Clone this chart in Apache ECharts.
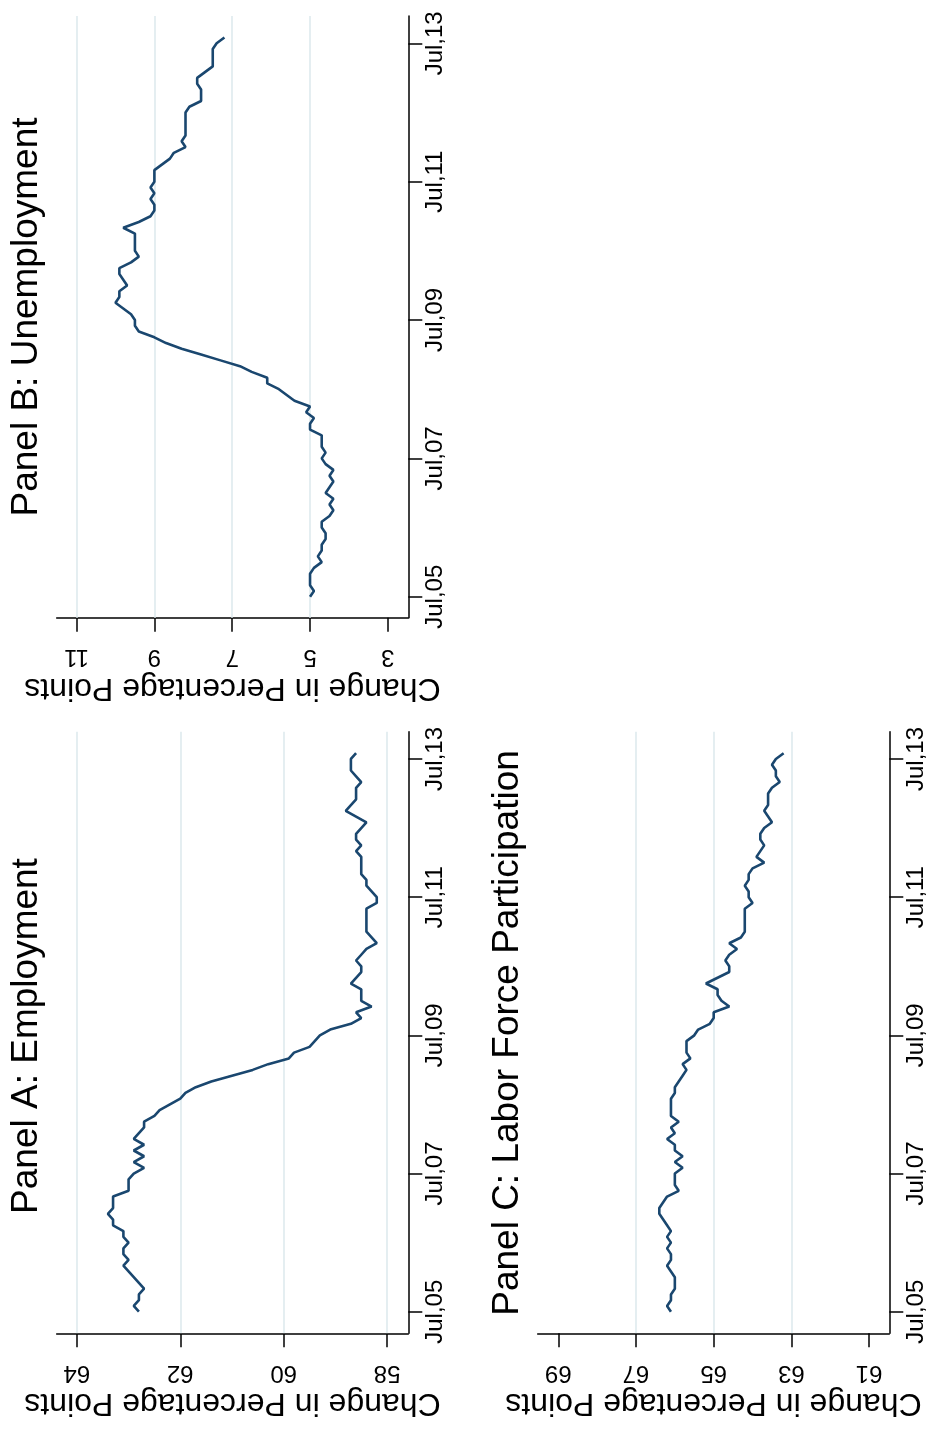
<!DOCTYPE html>
<html>
<head>
<meta charset="utf-8">
<script src="https://cdn.jsdelivr.net/npm/echarts@6/dist/echarts.min.js"></script>
<style>
html,body{margin:0;padding:0;background:#fff;}
#chart{width:934px;height:1429px;}
</style>
</head>
<body>
<div id="chart"></div>
<script>
// Monthly values, Jul 2005 (index 0) to Aug 2013 (index 97)
var employment = [62.8,62.9,62.8,62.8,62.7,62.8,62.9,63.0,63.1,63.0,63.1,63.1,63.0,63.1,63.1,63.3,63.3,63.4,63.3,63.3,
  63.3,63.0,63.0,63.0,62.9,62.7,62.9,62.7,62.9,62.7,62.9,62.8,62.7,62.7,62.5,62.4,62.2,62.0,61.9,61.7,
  61.4,61.0,60.6,60.3,59.9,59.8,59.5,59.4,59.3,59.1,58.7,58.5,58.6,58.3,58.5,58.5,58.5,58.7,58.6,58.5,
  58.5,58.6,58.5,58.4,58.2,58.3,58.4,58.4,58.4,58.4,58.4,58.2,58.2,58.3,58.4,58.4,58.5,58.5,58.5,58.5,
  58.6,58.5,58.6,58.6,58.5,58.4,58.6,58.8,58.7,58.6,58.6,58.6,58.5,58.6,58.7,58.7,58.7,58.6];
var unemployment = [5.0,4.9,5.0,5.0,5.0,4.9,4.7,4.8,4.7,4.7,4.6,4.6,4.7,4.7,4.5,4.4,4.5,4.4,4.6,4.5,
  4.4,4.5,4.4,4.6,4.7,4.6,4.7,4.7,4.7,5.0,5.0,4.9,5.1,5.0,5.4,5.6,5.8,6.1,6.1,6.5,
  6.8,7.3,7.8,8.3,8.7,9.0,9.4,9.5,9.5,9.6,9.8,10.0,9.9,9.9,9.7,9.8,9.9,9.9,9.6,9.4,
  9.5,9.5,9.5,9.5,9.8,9.4,9.1,9.0,9.0,9.1,9.0,9.1,9.0,9.0,9.0,8.8,8.6,8.5,8.2,8.3,
  8.2,8.2,8.2,8.2,8.2,8.1,7.8,7.8,7.8,7.9,7.9,7.7,7.5,7.5,7.5,7.5,7.4,7.2];
var participation = [66.1,66.2,66.1,66.1,66.0,66.0,66.0,66.1,66.2,66.1,66.1,66.2,66.1,66.2,66.1,66.2,66.3,66.4,66.4,66.3,
  66.2,65.9,66.0,66.0,66.0,65.8,66.0,65.8,66.0,66.0,66.2,66.0,66.1,65.9,66.1,66.1,66.1,66.1,66.0,66.0,
  65.9,65.8,65.7,65.8,65.6,65.7,65.7,65.7,65.5,65.4,65.1,65.0,65.0,64.6,64.8,64.9,64.9,65.2,64.9,64.6,
  64.6,64.7,64.6,64.4,64.6,64.3,64.2,64.2,64.2,64.2,64.2,64.0,64.1,64.1,64.2,64.1,64.1,64.0,63.7,63.9,
  63.8,63.7,63.8,63.8,63.7,63.5,63.6,63.7,63.6,63.6,63.6,63.5,63.3,63.4,63.4,63.5,63.4,63.2];

var timeTickMonths = [0, 24, 48, 72, 96];
var timeTickLabels = ['Jul,05', 'Jul,07', 'Jul,09', 'Jul,11', 'Jul,13'];

var ticksA = [58, 60, 62, 64];
var ticksB = [3, 5, 7, 9, 11];
var ticksC = [61, 63, 65, 67, 69];
var gridValsA = [58, 60, 62, 64];
var gridValsB = [5, 7, 9, 11];
var gridValsC = [63, 65, 67];

var titles = ['Panel A: Employment', 'Panel B: Unemployment', 'Panel C: Labor Force Participation'];
var axisTitle = 'Change in Percentage Points';

var FONT = '"Liberation Sans", Arial, Helvetica, sans-serif';
var LINE_COLOR = '#1a476f';
var GRID_COLOR = '#e2edf0';

var panels = [
  {grid: {left: 56.7, top: 731.7, width: 351.6, height: 601.6}, vmin: 57.59, vmax: 64.39, tmin: -3.75, tmax: 100.74, ticks: ticksA, gridVals: gridValsA, data: employment, title: titles[0], tx: 26.7, ty: 1036},
  {grid: {left: 56.7, top: 16, width: 351.6, height: 601.7}, vmin: 2.475, vmax: 11.51, tmin: -3.64, tmax: 100.74, ticks: ticksB, gridVals: gridValsB, data: unemployment, title: titles[1], tx: 26.7, ty: 317},
  {grid: {left: 537.7, top: 731.7, width: 351.6, height: 601.6}, vmin: 60.48, vmax: 69.53, tmin: -3.75, tmax: 100.74, ticks: ticksC, gridVals: gridValsC, data: participation, title: titles[2], tx: 507.7, ty: 1033}
];

var grids = [], xAxes = [], yAxes = [], series = [], graphics = [];
panels.forEach(function (p, i) {
  grids.push(Object.assign({containLabel: false}, p.grid));
  xAxes.push({
    type: 'value', gridIndex: i, inverse: true, min: p.vmin, max: p.vmax, position: 'bottom',
    name: axisTitle, nameLocation: 'middle', nameGap: 54, nameRotate: 180,
    nameTextStyle: {fontFamily: FONT, fontSize: 32, color: '#000'},
    axisLine: {show: true, onZero: false, lineStyle: {color: '#000', width: 1.5}},
    axisTick: {show: true, customValues: p.ticks, length: 14, inside: false, lineStyle: {color: '#000', width: 1.5}},
    axisLabel: {show: true, customValues: p.ticks, rotate: 180, margin: 27, fontFamily: FONT, fontSize: 24, color: '#000',
      formatter: function (v) { return String(v); }},
    splitLine: {show: false}
  });
  yAxes.push({
    type: 'value', gridIndex: i, min: p.tmin, max: p.tmax, position: 'right',
    axisLine: {show: true, onZero: false, lineStyle: {color: '#000', width: 1.5}},
    axisTick: {show: true, customValues: timeTickMonths, length: 14, inside: false, lineStyle: {color: '#000', width: 1.5}},
    axisLabel: {show: true, customValues: timeTickMonths, rotate: 90, margin: 15, fontFamily: FONT, fontSize: 24, color: '#000',
      formatter: function (v) { var k = timeTickMonths.indexOf(Math.round(v)); return k >= 0 ? timeTickLabels[k] : ''; }},
    splitLine: {show: false}
  });
  series.push({
    type: 'line', xAxisIndex: i, yAxisIndex: i,
    data: p.data.map(function (v, k) { return [v, k]; }),
    showSymbol: false, symbol: 'none', smooth: false, z: 3,
    lineStyle: {color: LINE_COLOR, width: 2.6},
    animation: false, silent: true,
    markLine: {
      silent: true, symbol: ['none', 'none'], z: 1, animation: false,
      label: {show: false},
      lineStyle: {color: GRID_COLOR, width: 1.8, type: 'solid'},
      emphasis: {disabled: true},
      data: p.gridVals.map(function (v) { return {xAxis: v}; })
    }
  });
  graphics.push({
    type: 'text', x: p.tx, y: p.ty, rotation: Math.PI / 2, silent: true,
    style: {text: p.title, fill: '#000', fontFamily: FONT, fontSize: 37,
      textAlign: 'center', textVerticalAlign: 'middle', align: 'center', verticalAlign: 'middle'}
  });
});

var chart = echarts.init(document.getElementById('chart'), null, {renderer: 'canvas'});
chart.setOption({
  backgroundColor: '#ffffff',
  animation: false,
  textStyle: {fontFamily: FONT},
  grid: grids,
  xAxis: xAxes,
  yAxis: yAxes,
  series: series,
  graphic: graphics
});
</script>
</body>
</html>
